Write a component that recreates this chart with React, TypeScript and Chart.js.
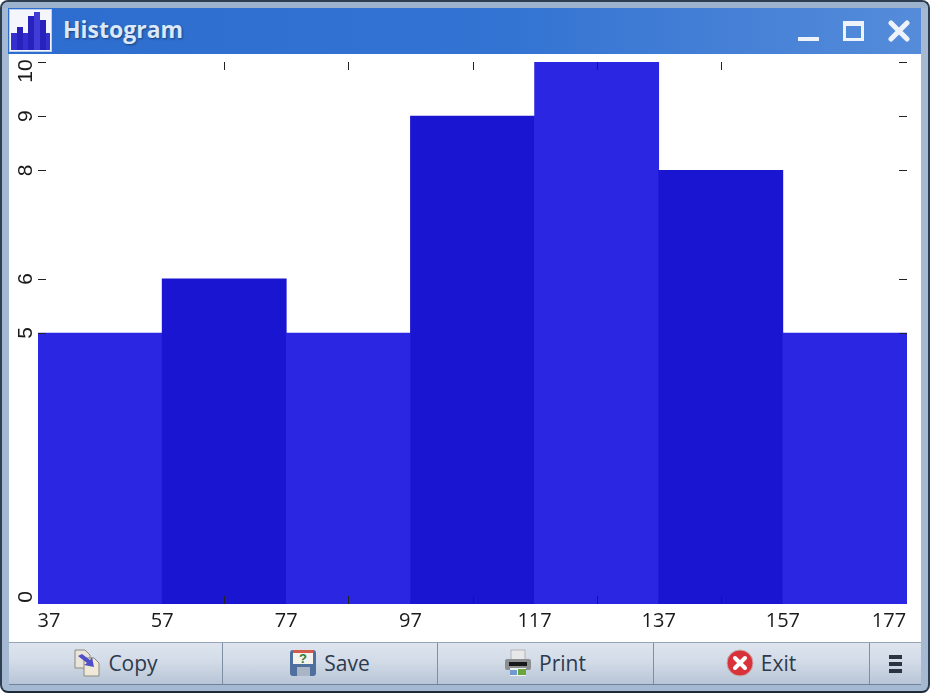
import React, { useEffect, useRef } from "react";
import { Chart, registerables } from "chart.js";

Chart.register(...registerables);

const binCenters = [47, 67, 87, 107, 127, 147, 167];
const binCounts = [5, 6, 5, 9, 10, 8, 5];
const barColors = ["#2a26e1", "#1915d1", "#2a26e1", "#1915d1", "#2a26e1", "#1915d1", "#2a26e1"];
const xTickValues = [37, 57, 77, 97, 117, 137, 157, 177];
const xInnerTicks = [67, 87, 107, 127, 147];
const yTickValues = [0, 5, 6, 8, 9, 10];
const yInnerTicks = [5, 6, 8, 9, 10];
const buttonLabels = ["Copy", "Save", "Print", "Exit"];

const tickPlugin = {
  id: "innerTicks",
  beforeDraw(chart: any) {
    const { x, y } = chart.scales;
    const xItems = x.getLabelItems(chart.chartArea);
    xItems.forEach((it: any) => {
      if (it.label === "37") it.options.translation[0] = x.left + 11;
      if (it.label === "177") it.options.translation[0] = x.right - 18;
    });
    const yItems = y.getLabelItems(chart.chartArea);
    yItems.forEach((it: any) => {
      it.options.textAlign = "center";
      it.options.textBaseline = "middle";
      it.options.translation[0] = 17;
      if (it.label === "10") it.options.translation[1] = y.top + 9;
      if (it.label === "0") it.options.translation[1] = y.bottom - 7;
    });
  },
  afterDatasetsDraw(chart: any) {
    const { ctx, chartArea: a } = chart;
    const { x, y } = chart.scales;
    ctx.save();
    ctx.strokeStyle = "#222";
    ctx.lineWidth = 1;
    ctx.beginPath();
    xInnerTicks.forEach((v) => {
      const p = Math.round(x.getPixelForValue(v)) + 0.5;
      ctx.moveTo(p, a.top);
      ctx.lineTo(p, a.top + 8);
      ctx.moveTo(p, a.bottom);
      ctx.lineTo(p, a.bottom - 8);
    });
    yInnerTicks.forEach((v) => {
      const p = Math.round(y.getPixelForValue(v)) + 0.5;
      ctx.moveTo(a.left, p);
      ctx.lineTo(a.left + 8, p);
      ctx.moveTo(a.right, p);
      ctx.lineTo(a.right - 8, p);
    });
    ctx.stroke();
    ctx.restore();
  },
};

const clearPadding = (s: any) => {
  s.paddingLeft = 0;
  s.paddingRight = 0;
  s.paddingTop = 0;
  s.paddingBottom = 0;
};

function HistChart() {
  const ref = useRef<HTMLCanvasElement>(null);
  useEffect(() => {
    const chart = new Chart(ref.current!, {
      type: "bar",
      data: {
        datasets: [
          {
            data: binCenters.map((c, i) => ({ x: c, y: binCounts[i] })),
            backgroundColor: barColors,
            borderWidth: 0,
            barPercentage: 1,
            categoryPercentage: 1,
          },
        ],
      },
      options: {
        responsive: false,
        animation: false,
        layout: { autoPadding: false, padding: { top: 8, right: 14, left: 0, bottom: 0 } },
        plugins: { legend: { display: false }, title: { display: false }, tooltip: { enabled: false } },
        scales: {
          x: {
            type: "linear",
            min: 37,
            max: 177,
            offset: false,
            border: { display: false },
            grid: { display: false },
            afterBuildTicks: (s: any) => {
              s.ticks = xTickValues.map((value) => ({ value }));
            },
            afterFit: (s: any) => {
              s.height = 38;
              clearPadding(s);
            },
            ticks: {
              autoSkip: false,
              maxRotation: 0,
              minRotation: 0,
              padding: -3,
              color: "#1a1a1a",
              font: { family: "'Open Sans'", size: 20 },
            },
          },
          y: {
            type: "linear",
            min: 0,
            max: 10,
            border: { display: false },
            grid: { display: false },
            afterBuildTicks: (s: any) => {
              s.ticks = yTickValues.map((value) => ({ value }));
            },
            afterFit: (s: any) => {
              s.width = 29;
              clearPadding(s);
            },
            ticks: {
              autoSkip: false,
              minRotation: 90,
              maxRotation: 90,
              color: "#1a1a1a",
              font: { family: "'Liberation Sans'", size: 21 },
            },
          },
        },
      } as any,
      plugins: [tickPlugin],
    });
    return () => chart.destroy();
  }, []);
  return <canvas ref={ref} width={912} height={588} style={{ display: "block", width: 912, height: 588 }} />;
}

function WindowIcon() {
  return (
    <svg width="43" height="43" viewBox="0 0 43 43" style={{ position: "absolute", left: 9, top: 9 }}>
      <rect x="0.5" y="0.5" width="42" height="42" fill="#f4f6fb" stroke="#bcd0ec" />
      <rect x="2" y="24" width="7" height="17" fill="#3330cf" />
      <rect x="8" y="18" width="6" height="23" fill="#2622bb" />
      <rect x="14" y="24" width="5" height="17" fill="#3330cf" />
      <rect x="19" y="7" width="6" height="34" fill="#2622bb" />
      <rect x="25" y="3" width="6" height="38" fill="#3f3cd8" />
      <rect x="31" y="11" width="6" height="30" fill="#2622bb" />
      <rect x="37" y="24" width="4" height="17" fill="#3330cf" />
    </svg>
  );
}

function ButtonIcon({ kind }: { kind: string }) {
  const s = { display: "block" } as const;
  if (kind === "Copy")
    return (
      <svg width="28" height="28" viewBox="0 0 28 28" style={s}>
        <path d="M2 1h10l5 5v13H2z" fill="#e9e5da" stroke="#8b8b80" />
        <path d="M11 9h10l5 5v13H11z" fill="#efe9da" stroke="#8b8b80" />
        <path d="M5 7l4-2 8 6 2-3 2 10-10-2 3-2z" fill="#4f50c8" />
      </svg>
    );
  if (kind === "Save")
    return (
      <svg width="28" height="28" viewBox="0 0 28 28" style={s}>
        <rect x="1" y="1" width="26" height="26" rx="3" fill="#4f6f9e" />
        <rect x="4" y="1" width="20" height="14" fill="#f4f2ec" />
        <rect x="4" y="1" width="20" height="3" fill="#d45a4a" />
        <text x="14" y="14" fontSize="13" fontWeight="700" textAnchor="middle" fill="#2f7a3a" fontFamily="'Liberation Sans'">?</text>
        <rect x="8" y="18" width="13" height="9" fill="#a9b4c4" />
      </svg>
    );
  if (kind === "Print")
    return (
      <svg width="28" height="28" viewBox="0 0 28 28" style={s}>
        <rect x="7" y="1" width="14" height="10" fill="#e8e8e8" stroke="#b5b5b5" />
        <rect x="1" y="10" width="26" height="11" rx="2" fill="#8c8f92" />
        <rect x="5" y="13" width="18" height="4" fill="#16181a" />
        <rect x="6" y="19" width="16" height="8" fill="#eef0f2" />
        <rect x="14" y="20" width="8" height="6" fill="#6aa53e" />
        <rect x="6" y="21" width="7" height="5" fill="#6f9bd1" />
      </svg>
    );
  return (
    <svg width="28" height="28" viewBox="0 0 28 28" style={s}>
      <circle cx="14" cy="14" r="13" fill="#d8333a" stroke="#c9a9a9" />
      <path d="M9 9l10 10M19 9L9 19" stroke="#fff" strokeWidth="4" strokeLinecap="round" />
    </svg>
  );
}

const buttonEdges = [9, 222, 437, 653, 869, 921];

export default function App() {
  return (
    <div
      style={{
        position: "fixed",
        left: 0,
        top: 0,
        width: 930,
        height: 693,
        overflow: "hidden",
        boxSizing: "border-box",
        background: "#a5bad2",
        border: "2px solid #2f3f52",
        borderBottomColor: "#1f2a38",
        borderRadius: 8,
      }}
    >
      <div style={{ position: "absolute", inset: -2 }}>
        <div style={{ position: "absolute", left: 1, top: 1, width: 928, height: 7, background: "#9db3cd", borderRadius: "7px 7px 0 0" }} />
        <div
          style={{
            position: "absolute",
            left: 8,
            top: 8,
            width: 913,
            height: 46,
            background: "linear-gradient(90deg,#2d6dcf 0%,#3373d2 55%,#558cda 100%)",
          }}
        />
        <WindowIcon />
        <div
          style={{
            position: "absolute",
            left: 63,
            top: 12,
            fontFamily: "'Open Sans'",
            fontWeight: 700,
            fontSize: 23,
            lineHeight: "34px",
            color: "#d9e8fa",
            textShadow: "1px 1px 2px #1d3f78",
          }}
        >
          Histogram
        </div>
        <div style={{ position: "absolute", left: 798, top: 37, width: 21, height: 4, background: "#eef3fb" }} />
        <div style={{ position: "absolute", left: 843, top: 21, width: 21, height: 20, boxSizing: "border-box", border: "3px solid #eef3fb", borderTopWidth: 5 }} />
        <svg width="22" height="22" style={{ position: "absolute", left: 888, top: 20 }}>
          <path d="M3 3l16 16M19 3L3 19" stroke="#eef3fb" strokeWidth="5" strokeLinecap="round" />
        </svg>

        <div style={{ position: "absolute", left: 9, top: 54, width: 912, height: 588, background: "#fff" }}>
          <HistChart />
        </div>

        <div style={{ position: "absolute", left: 9, top: 642, width: 912, height: 43, background: "linear-gradient(180deg,#dde4ee 0%,#d2dbe7 45%,#b8c5d7 100%)", borderTop: "1px solid #95a3b5", borderBottom: "1px solid #6f8299", boxSizing: "border-box" }} />
        {buttonEdges.slice(1, 5).map((x) => (
          <div key={x} style={{ position: "absolute", left: x, top: 643, width: 1, height: 41, background: "#7f8fa3" }} />
        ))}
        {buttonLabels.map((label, i) => (
          <div
            key={label}
            style={{
              position: "absolute",
              left: buttonEdges[i],
              top: 642,
              width: buttonEdges[i + 1] - buttonEdges[i],
              height: 41,
              display: "flex",
              alignItems: "center",
              justifyContent: "center",
              gap: 7,
              fontFamily: "'Open Sans'",
              fontSize: 21,
              color: "#2d3a4d",
            }}
          >
            <ButtonIcon kind={label} />
            <span>{label}</span>
          </div>
        ))}
        <div style={{ position: "absolute", left: 889, top: 655, width: 13, height: 18, display: "flex", flexDirection: "column", justifyContent: "space-between" }}>
          {[0, 1, 2].map((k) => (
            <div key={k} style={{ height: 4, background: "#2b3442" }} />
          ))}
        </div>
      </div>
    </div>
  );
}
